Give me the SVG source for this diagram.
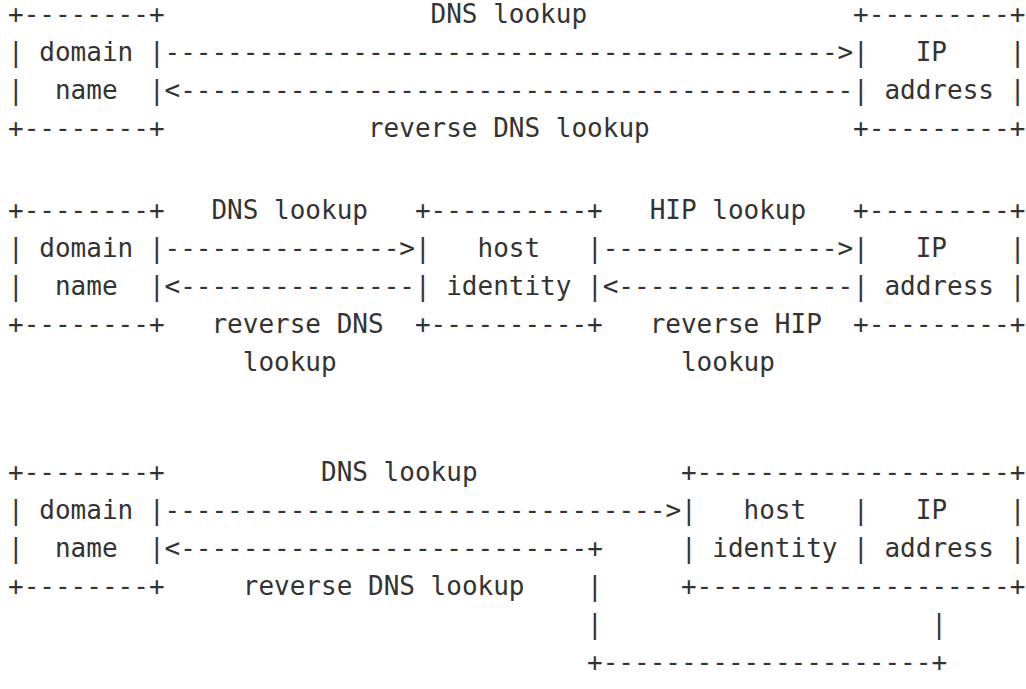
<svg xmlns="http://www.w3.org/2000/svg" width="1026" height="689" viewBox="0 0 1026 689" xml:space="preserve">
<style>
text { font-family: "DejaVu Sans Mono", "Liberation Mono", monospace; font-size: 26px; fill: #333333; white-space: pre; }
</style>
<rect x="0" y="0" width="1026" height="689" fill="#ffffff"/>
<!-- Diagram 1 -->
<g id="d1-domain-name">
<text x="8" y="23">+--------+</text>
<text x="8" y="61">| domain |</text>
<text x="8" y="99">|  name  |</text>
<text x="8" y="137">+--------+</text>
</g>
<g id="d1-ip-address">
<text x="853.1" y="23">+---------+</text>
<text x="853.1" y="61">|   IP    |</text>
<text x="853.1" y="99">| address |</text>
<text x="853.1" y="137">+---------+</text>
</g>
<g id="d1-connectors">
<text x="430.55" y="23">DNS lookup</text>
<text x="164.5" y="61">-------------------------------------------&gt;</text>
<text x="164.5" y="99">&lt;-------------------------------------------</text>
<text x="367.95" y="137">reverse DNS lookup</text>
</g>
<!-- Diagram 2 -->
<g id="d2-domain-name">
<text x="8" y="219">+--------+</text>
<text x="8" y="257">| domain |</text>
<text x="8" y="295">|  name  |</text>
<text x="8" y="333">+--------+</text>
</g>
<g id="d2-host-identity">
<text x="414.9" y="219">+----------+</text>
<text x="414.9" y="257">|   host   |</text>
<text x="414.9" y="295">| identity |</text>
<text x="414.9" y="333">+----------+</text>
</g>
<g id="d2-ip-address">
<text x="853.1" y="219">+---------+</text>
<text x="853.1" y="257">|   IP    |</text>
<text x="853.1" y="295">| address |</text>
<text x="853.1" y="333">+---------+</text>
</g>
<g id="d2-connectors">
<text x="211.45" y="219">DNS lookup</text>
<text x="649.65" y="219">HIP lookup</text>
<text x="164.5" y="257">---------------&gt;</text>
<text x="602.7" y="257">---------------&gt;</text>
<text x="164.5" y="295">&lt;---------------</text>
<text x="602.7" y="295">&lt;---------------</text>
<text x="211.45" y="333">reverse DNS</text>
<text x="649.65" y="333">reverse HIP</text>
<text x="242.75" y="371">lookup</text>
<text x="680.95" y="371">lookup</text>
</g>
<!-- Diagram 3 -->
<g id="d3-domain-name">
<text x="8" y="481">+--------+</text>
<text x="8" y="519">| domain |</text>
<text x="8" y="557">|  name  |</text>
<text x="8" y="595">+--------+</text>
</g>
<g id="d3-host-identity-ip-address">
<text x="680.95" y="481">+--------------------+</text>
<text x="680.95" y="519">|   host   |   IP    |</text>
<text x="680.95" y="557">| identity | address |</text>
<text x="680.95" y="595">+--------------------+</text>
</g>
<g id="d3-connectors">
<text x="321" y="481">DNS lookup</text>
<text x="164.5" y="519">--------------------------------&gt;</text>
<text x="164.5" y="557">&lt;--------------------------+</text>
<text x="242.75" y="595">reverse DNS lookup</text>
<text x="587.05" y="595">|</text>
<text x="587.05" y="633">|</text>
<text x="931.35" y="633">|</text>
<text x="587.05" y="671">+---------------------+</text>
</g>
</svg>
